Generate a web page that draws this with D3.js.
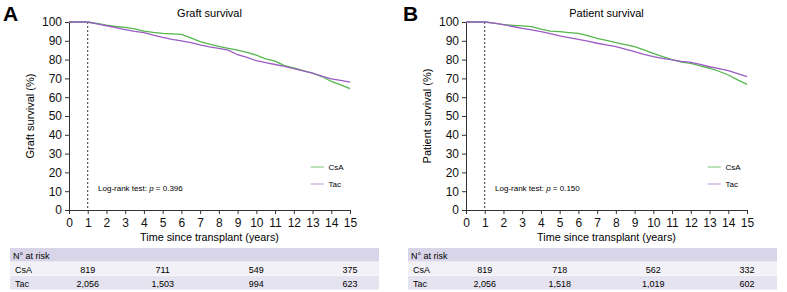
<!DOCTYPE html>
<html>
<head>
<meta charset="utf-8">
<script src="https://cdn.jsdelivr.net/npm/d3@7"></script>
<style>
  body { margin: 0; background: #fff; }
  svg { font-family: "Liberation Sans", Arial, sans-serif; }
</style>
</head>
<body>
<div id="chart"></div>
<script>
// survival curves (year, %)
var years = [0, 1, 1.5, 2, 2.5, 3, 3.5, 4, 4.5, 5, 5.5, 6, 6.5, 7, 7.5, 8, 8.5, 9, 9.5, 10, 10.5, 11, 11.5, 12, 12.5, 13, 13.5, 14, 14.5, 15];

var graftCsA = [100, 100, 99.2, 98.3, 97.6, 97.1, 96.4, 95.2, 94.5, 94.0, 93.7, 93.4, 91.5, 89.6, 88.2, 87.0, 86.0, 85.0, 83.8, 82.4, 80.4, 79.2, 76.8, 75.6, 74.2, 72.8, 71.0, 68.4, 66.6, 64.6];
var graftTac = [100, 100, 99.0, 98.0, 97.0, 96.0, 95.0, 94.3, 93.0, 91.8, 90.8, 90.0, 89.0, 87.8, 86.8, 86.0, 85.0, 82.6, 81.2, 79.4, 78.4, 77.4, 76.4, 75.2, 74.0, 72.8, 71.2, 69.8, 69.0, 68.0];

var patCsA = [100, 100, 99.4, 98.6, 98.2, 97.9, 97.5, 96.2, 95.2, 94.9, 94.4, 94.0, 92.8, 91.3, 90.2, 89.0, 88.0, 86.9, 85.2, 83.3, 81.6, 80.0, 78.6, 78.0, 76.6, 75.4, 73.8, 71.8, 69.2, 66.8];
var patTac = [100, 100, 99.4, 98.6, 97.6, 96.6, 95.8, 94.9, 93.8, 92.6, 91.7, 90.8, 89.8, 88.7, 87.8, 86.9, 85.6, 84.2, 82.8, 81.6, 80.6, 79.8, 79.0, 78.5, 77.4, 76.2, 75.2, 74.1, 72.6, 70.9];

var riskYears = [1, 5, 10, 15];
var riskGraftCsA = ["819", "711", "549", "375"];
var riskGraftTac = ["2,056", "1,503", "994", "623"];
var riskPatCsA = ["819", "718", "562", "332"];
var riskPatTac = ["2,056", "1,518", "1,019", "602"];

var xTicks = d3.range(0, 16);
var yTicks = d3.range(0, 101, 10);

var green = "#55b74e", purple = "#9b5cc4";

var svg = d3.select("#chart").append("svg")
    .attr("width", 787)
    .attr("height", 292);

function drawPanel(opt) {
  var x = d3.scaleLinear().domain([0, 15]).range([opt.left, opt.right]);
  var y = d3.scaleLinear().domain([0, 100]).range([210, 22]);
  var g = svg.append("g");

  // panel letter + title
  g.append("text")
    .attr("x", opt.letterX).attr("y", 21)
    .attr("font-size", 21).attr("font-weight", "bold")
    .text(opt.letter);
  g.append("text")
    .attr("x", (opt.left + opt.right) / 2).attr("y", 17)
    .attr("text-anchor", "middle").attr("font-size", 11)
    .text(opt.title);

  // axes
  var xa = g.append("g")
    .attr("transform", "translate(0,210)")
    .call(d3.axisBottom(x).tickValues(xTicks).tickSize(4).tickSizeOuter(0));
  xa.selectAll("text").attr("font-size", 12).attr("dy", "0.85em").attr("fill", "#111");
  var ya = g.append("g")
    .attr("transform", "translate(" + opt.left + ",0)")
    .call(d3.axisLeft(y).tickValues(yTicks).tickSize(4).tickSizeOuter(0));
  ya.selectAll("text").attr("font-size", 12).attr("fill", "#111");
  g.selectAll(".domain").attr("stroke", "#333");
  g.selectAll(".tick line").attr("stroke", "#333");

  g.append("text")
    .attr("x", (opt.left + opt.right) / 2).attr("y", 241)
    .attr("text-anchor", "middle").attr("font-size", 10.8)
    .text("Time since transplant (years)");
  g.append("text")
    .attr("transform", "translate(" + (opt.left - 35) + ",116) rotate(-90)")
    .attr("text-anchor", "middle").attr("font-size", 11)
    .text(opt.ylabel);

  // dashed landmark at 1 year
  g.append("line")
    .attr("x1", x(1)).attr("x2", x(1))
    .attr("y1", y(100)).attr("y2", y(0))
    .attr("stroke", "#333").attr("stroke-width", 1)
    .attr("stroke-dasharray", "2,2");

  var line = d3.line()
    .x(function(d, i) { return x(years[i]); })
    .y(function(d) { return y(d); });
  g.append("path").datum(opt.csa)
    .attr("d", line).attr("fill", "none")
    .attr("stroke", green).attr("stroke-width", 1.3);
  g.append("path").datum(opt.tac)
    .attr("d", line).attr("fill", "none")
    .attr("stroke", purple).attr("stroke-width", 1.3);

  // legend
  var leg = [["CsA", "#a6d9a2"], ["Tac", "#d3b8e6"]];
  leg.forEach(function(l, i) {
    var ly = 167 + i * 17;
    g.append("line")
      .attr("x1", x(12.9)).attr("x2", x(13.6))
      .attr("y1", ly).attr("y2", ly)
      .attr("stroke", l[1]).attr("stroke-width", 1.5);
    g.append("text")
      .attr("x", x(13.85)).attr("y", ly + 3)
      .attr("font-size", 8).text(l[0]);
  });

  // log-rank text
  var t = g.append("text")
    .attr("x", x(1.55)).attr("y", 191)
    .attr("font-size", 8);
  t.append("tspan").text("Log-rank test: ");
  t.append("tspan").attr("font-style", "italic").text("p");
  t.append("tspan").text(" = " + opt.pval);

  // number at risk table
  var tx0 = opt.tableLeft, tx1 = opt.tableRight;
  var rows = [
    {top: 248, h: 14, fill: "#d8d5e8"},
    {top: 262, h: 14, fill: "#f2f1f7"},
    {top: 276, h: 14, fill: "#e6e3f0"}
  ];
  rows.forEach(function(r) {
    g.append("rect")
      .attr("x", tx0).attr("y", r.top)
      .attr("width", tx1 - tx0).attr("height", r.h - 0.5)
      .attr("fill", r.fill);
  });
  g.append("text").attr("x", tx0 + 3).attr("y", 259)
    .attr("font-size", 9).text("N\u00b0 at risk");
  [["CsA", opt.riskCsA, 273], ["Tac", opt.riskTac, 287]].forEach(function(r) {
    g.append("text").attr("x", tx0 + 5).attr("y", r[2])
      .attr("font-size", 9).text(r[0]);
    g.selectAll(null).data(r[1]).enter().append("text")
      .attr("x", function(d, i) { return x(riskYears[i]); })
      .attr("y", r[2])
      .attr("text-anchor", "middle")
      .attr("font-size", 9)
      .text(function(d) { return d; });
  });
}

drawPanel({
  letter: "A", letterX: 3, title: "Graft survival", ylabel: "Graft survival (%)",
  left: 69, right: 350, csa: graftCsA, tac: graftTac, pval: "0.396",
  tableLeft: 10, tableRight: 379, riskCsA: riskGraftCsA, riskTac: riskGraftTac
});
drawPanel({
  letter: "B", letterX: 403, title: "Patient survival", ylabel: "Patient survival (%)",
  left: 466, right: 747, csa: patCsA, tac: patTac, pval: "0.150",
  tableLeft: 408, tableRight: 777, riskCsA: riskPatCsA, riskTac: riskPatTac
});
</script>
</body>
</html>
